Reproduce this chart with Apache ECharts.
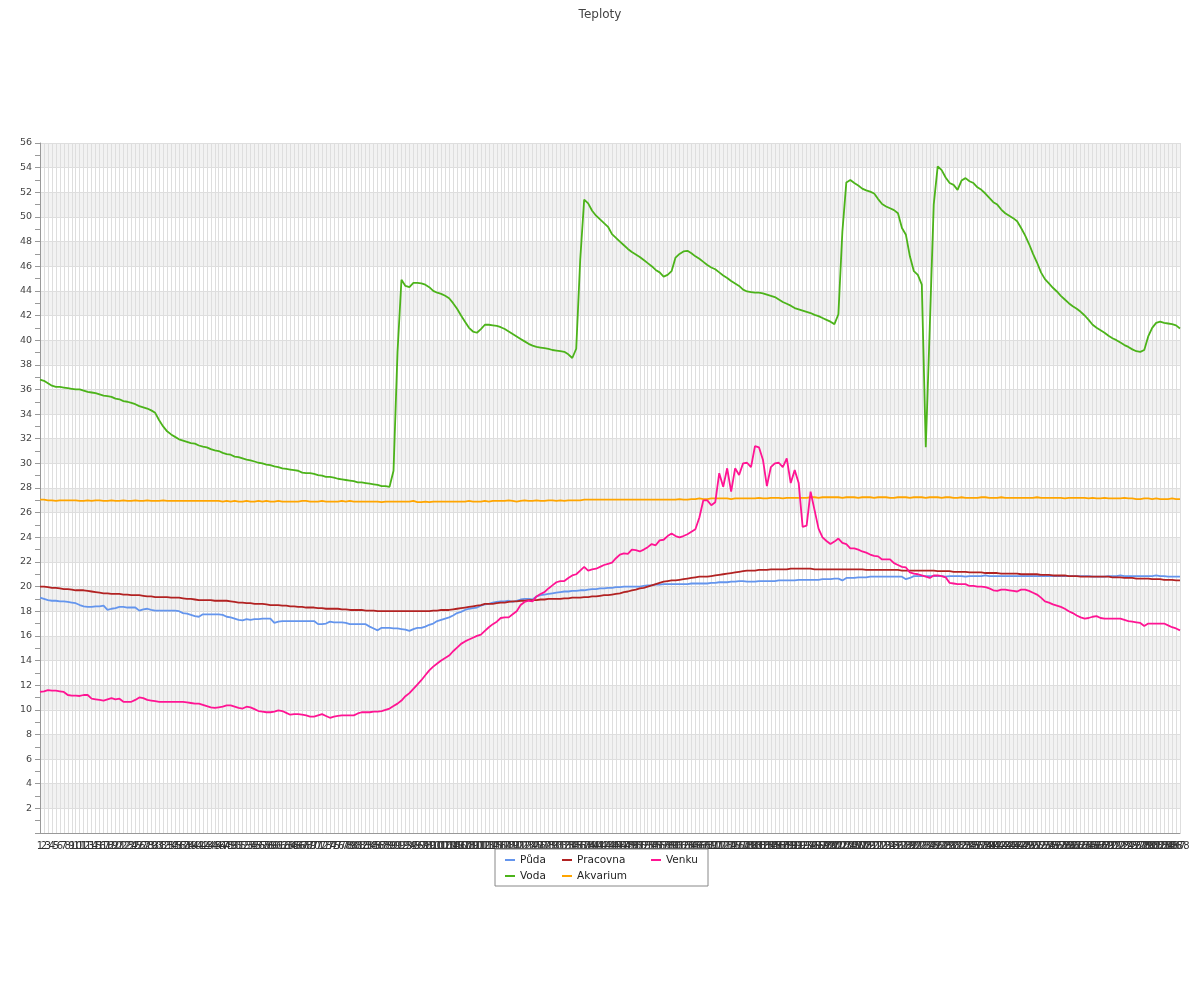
<!DOCTYPE html>
<html><head><meta charset="utf-8">
<script src="https://cdn.jsdelivr.net/npm/echarts@6/dist/echarts.min.js"></script>
<style>html,body{margin:0;padding:0;background:#fff}#c{width:1200px;height:1000px}</style>
</head><body><div id="c"></div>
<script>
// Categories: measurement numbers 1..288
const categories = [];
for (let i = 1; i <= 288; i++) categories.push(String(i));

const seriesNames = ['Půda', 'Voda', 'Pracovna', 'Akvarium', 'Venku'];

const puda = [
19.1,19.0,18.9,18.85,18.85,18.8,18.8,18.75,18.7,18.65,
18.5,18.4,18.35,18.35,18.4,18.4,18.45,18.1,18.2,18.25,
18.35,18.35,18.3,18.3,18.3,18.05,18.15,18.2,18.1,18.05,
18.05,18.05,18.05,18.05,18.05,18.0,17.85,17.8,17.7,17.6,
17.55,17.75,17.75,17.75,17.75,17.75,17.7,17.55,17.5,17.4,
17.3,17.25,17.35,17.3,17.35,17.35,17.4,17.4,17.4,17.05,
17.15,17.2,17.2,17.2,17.2,17.2,17.2,17.2,17.2,17.2,
16.95,16.95,17.0,17.15,17.1,17.1,17.1,17.05,16.95,16.95,
16.95,16.95,16.95,16.75,16.6,16.45,16.65,16.65,16.65,16.6,
16.6,16.55,16.5,16.4,16.55,16.65,16.65,16.75,16.9,17.0,
17.2,17.3,17.4,17.5,17.65,17.85,17.95,18.1,18.2,18.25,
18.3,18.45,18.55,18.6,18.7,18.75,18.8,18.8,18.85,18.75,
18.85,18.95,19.0,19.0,18.95,19.2,19.3,19.35,19.4,19.45,
19.5,19.55,19.6,19.6,19.65,19.65,19.7,19.7,19.75,19.8,
19.8,19.85,19.85,19.9,19.9,19.95,19.95,20.0,20.0,20.0,
20.0,20.0,20.05,20.1,20.1,20.15,20.15,20.2,20.2,20.2,
20.2,20.2,20.2,20.2,20.25,20.25,20.25,20.25,20.25,20.3,
20.3,20.35,20.35,20.35,20.4,20.4,20.45,20.45,20.4,20.4,
20.4,20.45,20.45,20.45,20.45,20.45,20.5,20.5,20.5,20.5,
20.5,20.55,20.55,20.55,20.55,20.55,20.55,20.6,20.6,20.6,
20.65,20.65,20.5,20.7,20.7,20.7,20.75,20.75,20.75,20.8,
20.8,20.8,20.8,20.8,20.8,20.8,20.8,20.8,20.6,20.7,
20.85,20.85,20.85,20.85,20.85,20.85,20.85,20.85,20.8,20.85,
20.85,20.85,20.85,20.8,20.85,20.85,20.85,20.85,20.9,20.85,
20.85,20.85,20.85,20.85,20.85,20.85,20.85,20.85,20.85,20.85,
20.85,20.85,20.85,20.85,20.85,20.85,20.85,20.85,20.85,20.85,
20.85,20.85,20.85,20.85,20.85,20.8,20.8,20.8,20.8,20.85,
20.85,20.85,20.9,20.85,20.85,20.85,20.85,20.85,20.85,20.85,
20.85,20.9,20.85,20.85,20.8,20.8,20.8,20.8
];

const voda = [
36.8,36.7,36.5,36.3,36.2,36.2,36.15,36.1,36.05,36.0,
36.0,35.9,35.8,35.75,35.7,35.6,35.5,35.45,35.4,35.25,
35.2,35.05,35.0,34.9,34.8,34.65,34.55,34.45,34.3,34.1,
33.5,33.0,32.6,32.35,32.15,31.95,31.85,31.75,31.65,31.6,
31.45,31.35,31.3,31.15,31.05,31.0,30.85,30.75,30.7,30.55,
30.5,30.4,30.3,30.25,30.15,30.05,30.0,29.9,29.85,29.75,
29.7,29.6,29.55,29.5,29.45,29.4,29.25,29.2,29.2,29.15,
29.05,29.0,28.9,28.9,28.85,28.75,28.7,28.65,28.6,28.55,
28.45,28.45,28.4,28.35,28.3,28.25,28.15,28.15,28.1,29.4,
39.0,44.9,44.4,44.3,44.65,44.65,44.6,44.5,44.3,44.0,
43.85,43.75,43.6,43.4,43.0,42.55,42.0,41.5,41.0,40.7,
40.6,40.9,41.25,41.25,41.2,41.15,41.05,40.9,40.7,40.5,
40.3,40.1,39.9,39.7,39.55,39.45,39.4,39.35,39.3,39.2,
39.15,39.1,39.05,38.85,38.55,39.3,46.5,51.4,51.1,50.5,
50.1,49.8,49.5,49.2,48.6,48.3,48.0,47.7,47.4,47.15,
46.95,46.75,46.5,46.25,46.0,45.7,45.5,45.15,45.3,45.6,
46.7,47.0,47.2,47.25,47.05,46.8,46.6,46.35,46.1,45.9,
45.75,45.5,45.25,45.05,44.8,44.6,44.4,44.1,43.95,43.9,
43.85,43.85,43.8,43.7,43.6,43.5,43.3,43.1,42.95,42.8,
42.6,42.5,42.4,42.3,42.2,42.05,41.95,41.8,41.65,41.5,
41.3,42.1,48.8,52.8,53.0,52.75,52.55,52.3,52.15,52.05,
51.9,51.45,51.05,50.85,50.7,50.55,50.3,49.1,48.55,46.8,
45.6,45.3,44.5,31.3,41.0,51.0,54.1,53.8,53.2,52.75,
52.6,52.2,52.95,53.15,52.9,52.75,52.4,52.2,51.9,51.55,
51.2,51.0,50.6,50.3,50.1,49.9,49.65,49.1,48.5,47.8,
47.0,46.3,45.5,44.95,44.6,44.25,43.95,43.6,43.3,43.0,
42.75,42.55,42.3,42.0,41.65,41.25,41.0,40.8,40.6,40.35,
40.15,40.0,39.8,39.6,39.45,39.25,39.1,39.05,39.2,40.3,
41.0,41.4,41.5,41.4,41.35,41.3,41.2,40.95
];

const pracovna = [
20.0,20.0,19.95,19.9,19.9,19.85,19.8,19.8,19.75,19.7,
19.7,19.7,19.65,19.6,19.55,19.5,19.45,19.45,19.4,19.4,
19.4,19.35,19.35,19.3,19.3,19.3,19.25,19.2,19.2,19.15,
19.15,19.15,19.15,19.1,19.1,19.1,19.05,19.0,19.0,18.95,
18.9,18.9,18.9,18.9,18.85,18.85,18.85,18.85,18.8,18.75,
18.7,18.7,18.65,18.65,18.6,18.6,18.6,18.55,18.5,18.5,
18.5,18.45,18.45,18.4,18.4,18.35,18.35,18.3,18.3,18.3,
18.25,18.25,18.2,18.2,18.2,18.2,18.15,18.15,18.1,18.1,
18.1,18.1,18.05,18.05,18.05,18.0,18.0,18.0,18.0,18.0,
18.0,18.0,18.0,18.0,18.0,18.0,18.0,18.0,18.0,18.05,
18.05,18.1,18.1,18.1,18.15,18.2,18.25,18.3,18.35,18.4,
18.45,18.5,18.6,18.6,18.6,18.65,18.7,18.7,18.75,18.8,
18.8,18.85,18.85,18.9,18.9,18.9,18.95,18.95,19.0,19.0,
19.0,19.0,19.05,19.05,19.1,19.1,19.1,19.15,19.15,19.2,
19.2,19.25,19.3,19.3,19.35,19.4,19.45,19.55,19.6,19.7,
19.75,19.85,19.9,20.0,20.1,20.2,20.3,20.4,20.45,20.5,
20.5,20.55,20.6,20.65,20.7,20.75,20.8,20.8,20.8,20.85,
20.9,20.95,21.0,21.05,21.1,21.15,21.2,21.25,21.3,21.3,
21.3,21.35,21.35,21.35,21.4,21.4,21.4,21.4,21.4,21.45,
21.45,21.45,21.45,21.45,21.45,21.4,21.4,21.4,21.4,21.4,
21.4,21.4,21.4,21.4,21.4,21.4,21.4,21.4,21.35,21.35,
21.35,21.35,21.35,21.35,21.35,21.35,21.35,21.3,21.3,21.3,
21.3,21.3,21.3,21.3,21.3,21.3,21.25,21.25,21.25,21.25,
21.2,21.2,21.2,21.2,21.15,21.15,21.15,21.15,21.1,21.1,
21.1,21.1,21.05,21.05,21.05,21.05,21.05,21.0,21.0,21.0,
21.0,21.0,20.95,20.95,20.95,20.9,20.9,20.9,20.9,20.85,
20.85,20.85,20.8,20.8,20.8,20.8,20.8,20.8,20.8,20.8,
20.75,20.75,20.75,20.7,20.7,20.7,20.65,20.65,20.65,20.65,
20.6,20.6,20.6,20.55,20.55,20.55,20.5,20.5
];

const akvarium = [
27.05,27.05,27.0,27.0,26.95,27.0,27.0,27.0,27.0,27.0,
26.95,26.95,27.0,26.95,27.0,27.0,26.95,26.95,27.0,26.95,
26.95,27.0,26.95,26.95,27.0,26.95,26.95,27.0,26.95,26.95,
26.95,27.0,26.95,26.95,26.95,26.95,26.95,26.95,26.95,26.95,
26.95,26.95,26.95,26.95,26.95,26.95,26.9,26.95,26.9,26.95,
26.9,26.9,26.95,26.9,26.9,26.95,26.9,26.95,26.9,26.9,
26.95,26.9,26.9,26.9,26.9,26.9,26.95,26.95,26.9,26.9,
26.9,26.95,26.9,26.9,26.9,26.9,26.95,26.9,26.95,26.9,
26.9,26.9,26.9,26.9,26.9,26.9,26.85,26.9,26.9,26.9,
26.9,26.9,26.9,26.9,26.95,26.85,26.85,26.9,26.85,26.9,
26.9,26.9,26.9,26.9,26.9,26.9,26.9,26.9,26.95,26.9,
26.9,26.9,26.95,26.9,26.95,26.95,26.95,26.95,27.0,26.95,
26.9,26.95,27.0,26.95,26.95,27.0,26.95,26.95,27.0,27.0,
26.95,27.0,26.95,27.0,27.0,27.0,27.0,27.05,27.05,27.05,
27.05,27.05,27.05,27.05,27.05,27.05,27.05,27.05,27.05,27.05,
27.05,27.05,27.05,27.05,27.05,27.05,27.05,27.05,27.05,27.05,
27.05,27.1,27.05,27.05,27.1,27.1,27.15,27.1,27.1,27.15,
27.15,27.15,27.15,27.15,27.1,27.15,27.15,27.15,27.15,27.15,
27.15,27.2,27.15,27.15,27.2,27.2,27.2,27.15,27.2,27.2,
27.2,27.2,27.2,27.2,27.25,27.25,27.2,27.25,27.25,27.25,
27.25,27.25,27.2,27.25,27.25,27.25,27.2,27.25,27.25,27.25,
27.2,27.25,27.25,27.25,27.2,27.2,27.25,27.25,27.25,27.2,
27.25,27.25,27.25,27.2,27.25,27.25,27.25,27.2,27.25,27.25,
27.2,27.2,27.25,27.2,27.2,27.2,27.2,27.25,27.25,27.2,
27.2,27.2,27.25,27.2,27.2,27.2,27.2,27.2,27.2,27.2,
27.2,27.25,27.2,27.2,27.2,27.2,27.2,27.2,27.15,27.2,
27.2,27.2,27.2,27.2,27.15,27.2,27.15,27.15,27.2,27.15,
27.15,27.15,27.15,27.2,27.15,27.15,27.1,27.1,27.15,27.15,
27.1,27.15,27.1,27.1,27.1,27.15,27.1,27.1
];

const venku = [
11.45,11.5,11.6,11.55,11.55,11.5,11.45,11.2,11.15,11.15,
11.12,11.2,11.2,10.9,10.85,10.8,10.75,10.85,10.95,10.85,
10.9,10.65,10.65,10.65,10.8,11.0,10.95,10.8,10.75,10.7,
10.65,10.65,10.65,10.65,10.65,10.65,10.65,10.6,10.55,10.5,
10.5,10.4,10.3,10.2,10.15,10.2,10.25,10.35,10.35,10.25,
10.15,10.1,10.25,10.2,10.05,9.9,9.85,9.8,9.8,9.85,
9.95,9.9,9.75,9.6,9.65,9.65,9.6,9.55,9.45,9.45,
9.55,9.65,9.5,9.35,9.45,9.5,9.55,9.55,9.55,9.55,
9.7,9.8,9.8,9.8,9.85,9.85,9.9,10.0,10.1,10.3,
10.5,10.75,11.1,11.35,11.7,12.05,12.4,12.8,13.2,13.5,
13.75,14.0,14.2,14.4,14.75,15.05,15.35,15.55,15.7,15.85,
16.0,16.1,16.4,16.7,16.95,17.15,17.45,17.5,17.5,17.75,
18.0,18.5,18.75,18.85,18.8,19.2,19.4,19.55,19.85,20.1,
20.35,20.45,20.45,20.7,20.9,21.0,21.3,21.6,21.3,21.4,
21.45,21.6,21.75,21.85,21.95,22.3,22.6,22.7,22.65,23.0,
22.95,22.85,23.0,23.2,23.45,23.35,23.75,23.8,24.1,24.3,
24.1,24.0,24.1,24.25,24.45,24.65,25.6,27.0,27.0,26.6,
26.85,29.2,28.1,29.6,27.7,29.6,29.05,30.0,30.05,29.7,
31.4,31.3,30.3,28.15,29.7,30.0,30.05,29.7,30.4,28.4,
29.45,28.4,24.85,24.95,27.7,26.2,24.7,24.0,23.7,23.45,
23.65,23.9,23.55,23.45,23.1,23.1,23.0,22.85,22.75,22.6,
22.5,22.45,22.2,22.2,22.2,21.9,21.75,21.6,21.55,21.15,
21.05,21.0,20.9,20.8,20.7,20.9,20.9,20.85,20.75,20.3,
20.25,20.2,20.2,20.2,20.05,20.05,20.0,20.0,19.95,19.85,
19.7,19.65,19.75,19.75,19.7,19.65,19.6,19.75,19.75,19.65,
19.5,19.35,19.1,18.8,18.7,18.55,18.45,18.35,18.2,18.0,
17.85,17.65,17.5,17.4,17.45,17.55,17.6,17.45,17.4,17.4,
17.4,17.4,17.4,17.3,17.2,17.15,17.1,17.05,16.8,17.0,
17.0,17.0,17.0,17.0,16.85,16.7,16.6,16.45
];

const seriesData = [puda, voda, pracovna, akvarium, venku];
const seriesColors = ['#6495ed', '#4cb31a', '#b22222', '#ffa500', '#ff1493'];

const FONT = 'DejaVu Sans';
const chart = echarts.init(document.getElementById('c'), null, { renderer: 'canvas' });

const legendWidths = { 'Půda': 40, 'Voda': 40, 'Pracovna': 72, 'Akvarium': 72, 'Venku': 36 };
const legendOrder = ['Půda', 'Pracovna', 'Venku', 'Voda', 'Akvarium'];

chart.setOption({
  animation: false,
  backgroundColor: '#fff',
  textStyle: { fontFamily: FONT },
  title: {
    text: 'Teploty', left: 'center', top: 4,
    textStyle: { fontFamily: FONT, fontSize: 12, fontWeight: 'normal', color: '#444' }
  },
  grid: { left: 40, right: 20, top: 143, bottom: 167, containLabel: false },
  legend: {
    left: 495, top: 849, width: 198,
    padding: [4, 6, 3, 10],
    itemGap: 2, itemWidth: 10, itemHeight: 2, icon: 'rect',
    borderColor: '#888', borderWidth: 1,
    textStyle: { fontFamily: FONT, fontSize: 10.5, color: '#222', lineHeight: 14 },
    data: legendOrder.map(n => ({ name: n, textStyle: { width: legendWidths[n] } }))
  },
  xAxis: {
    type: 'category', data: categories, boundaryGap: false,
    axisLine: { lineStyle: { color: '#999' } },
    axisTick: { show: false },
    axisLabel: { interval: 0, fontFamily: FONT, fontSize: 10, color: '#333', margin: 8 },
    splitLine: { show: true, interval: 0, lineStyle: { color: '#dedede', width: 1 } }
  },
  yAxis: {
    type: 'value', min: 0, max: 56, interval: 2,
    axisLine: { show: true, lineStyle: { color: '#999' } },
    axisTick: { show: true, length: 5, lineStyle: { color: '#999' } },
    minorTick: { show: true, splitNumber: 2, length: 5, lineStyle: { color: '#999' } },
    axisLabel: {
      fontFamily: FONT, fontSize: 9.5, color: '#444', margin: 8,
      formatter: v => (v === 0 ? '' : String(v))
    },
    splitLine: { show: true, lineStyle: { color: '#dedede', width: 1 } },
    splitArea: { show: true, areaStyle: { color: ['#ffffff', '#f2f2f2'] } }
  },
  series: seriesNames.map((name, i) => ({
    name, type: 'line', data: seriesData[i],
    showSymbol: false, symbol: 'none', smooth: false,
    lineStyle: { width: 1.8, color: seriesColors[i] },
    itemStyle: { color: seriesColors[i] },
    emphasis: { disabled: true }
  }))
});
</script></body></html>
